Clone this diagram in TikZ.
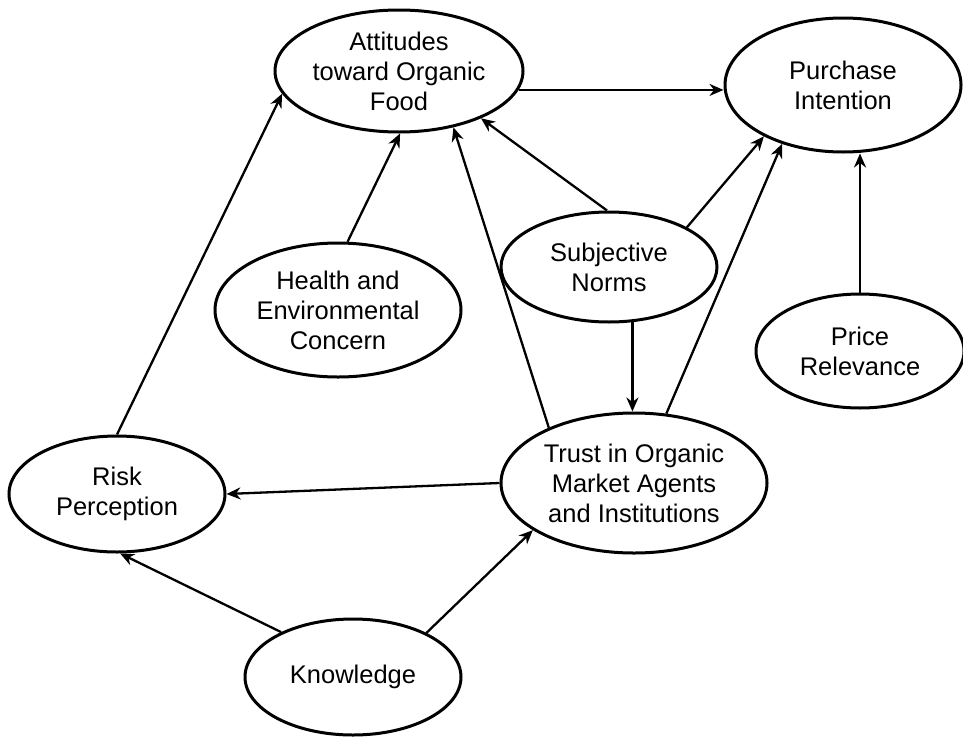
\documentclass[tikz,border=0pt]{standalone}
\usepackage{fontspec}
\setmainfont{Liberation Sans}
\usetikzlibrary{arrows.meta,shapes.geometric}
\begin{document}
\begin{tikzpicture}[x=1pt,y=-1pt,
  construct/.style={ellipse,draw,line width=3pt,inner sep=0pt,align=center,
    font=\fontsize{25.5}{30}\selectfont},
  link/.style={line width=2.3pt,-{Stealth[length=14pt,width=12pt,inset=4.5pt]}}]
\useasboundingbox (0,0) rectangle (963,736);
\node[construct,minimum width=248pt,minimum height=122pt] (att) at (399,71) {Attitudes\\toward Organic\\Food};
\node[construct,minimum width=236pt,minimum height=134pt] (pur) at (843,85) {Purchase\\Intention};
\node[construct,minimum width=246pt,minimum height=134pt] (hec) at (338,310) {Health and\\Environmental\\Concern};
\node[construct,minimum width=216pt,minimum height=110pt] (sub) at (609,267) {Subjective\\Norms};
\node[construct,minimum width=208pt,minimum height=114pt] (pri) at (860,351) {Price\\Relevance};
\node[construct,minimum width=216pt,minimum height=116pt] (risk) at (117,494) {Risk\\Perception};
\node[construct,minimum width=266pt,minimum height=140pt] (trust) at (634,483) {Trust in Organic\\Market Agents\\and Institutions};
\node[construct,minimum width=216pt,minimum height=116pt] (know) at (353,677) {Knowledge};
% connectors
\path (att.-9) coordinate (a1);
\draw[link] (a1) -- (a1 -| pur.west);
\draw[link] (sub.92) -- (att.-30);
\draw[link] (sub.27) -- (pur.213.5);
\draw[link] (hec.82) -- (att.-89);
\draw[link] (risk.90) -- (att.191);
\draw[link] (trust.147) -- (att.-46.5);
\path (sub.-67) coordinate (s7);
\draw[link] (s7) -- (s7 |- trust.north);
\draw[link] (trust.65) -- (pur.224.5);
\draw[link] (pri.north) -- (pri.north |- pur.south);
\draw[link] (trust.west) -- (risk.east);
\draw[link] (know.148) -- (risk.-87);
\draw[link] (know.31) -- (trust.205);
\end{tikzpicture}
\end{document}
